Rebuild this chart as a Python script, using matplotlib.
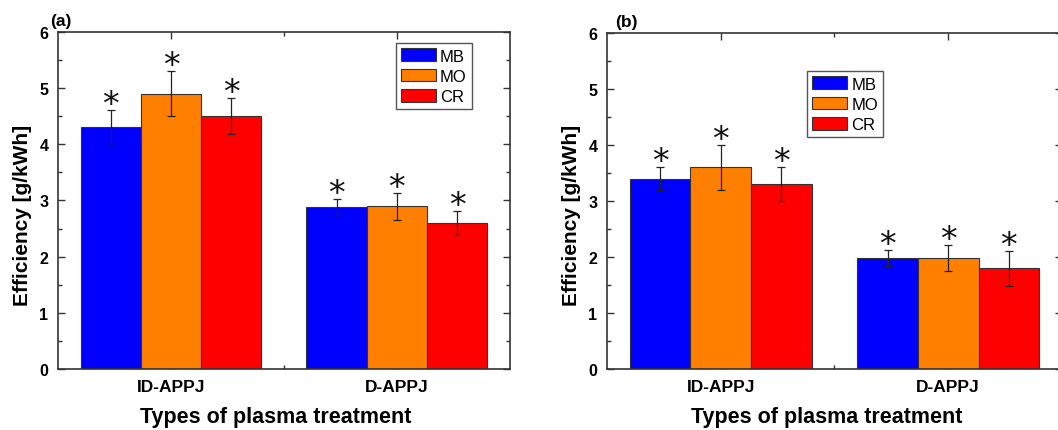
import numpy as np
import matplotlib.pyplot as plt
from matplotlib.ticker import MultipleLocator

plt.rcParams['font.family'] = ['Liberation Sans', 'DejaVu Sans']

groups = ['ID-APPJ', 'D-APPJ']
series = ['MB', 'MO', 'CR']
colors = ['#0000ff', '#ff8000', '#ff0000']

# panel (a)
eff_a = [[4.30, 2.88], [4.90, 2.90], [4.50, 2.60]]
err_a = [[0.31, 0.14], [0.40, 0.24], [0.32, 0.21]]
# panel (b)
eff_b = [[3.40, 1.98], [3.60, 1.98], [3.30, 1.80]]
err_b = [[0.20, 0.15], [0.40, 0.23], [0.31, 0.31]]

fig = plt.figure(figsize=(10.58, 4.31), dpi=100)
ax_a = fig.add_axes([0.0548, 0.1415, 0.427, 0.782])
ax_b = fig.add_axes([0.5737, 0.1415, 0.43, 0.780])

def draw_panel(ax, vals, errs, tag, tag_x, leg_anchor):
    x = np.arange(1, len(groups) + 1)
    w = 0.8 / len(series)
    for i, (name, col) in enumerate(zip(series, colors)):
        pos = x + (i - 1) * w
        ax.bar(pos, vals[i], w, color=col, edgecolor='#333333', lw=0.8,
               label=name, zorder=2)
        ax.errorbar(pos, vals[i], yerr=errs[i], fmt='none', ecolor='#222222',
                    elinewidth=0.9, capsize=3, capthick=0.9, zorder=3)
        for px, v, e in zip(pos, vals[i], errs[i]):
            ax.text(px, v + e + 0.10, '*', ha='center', va='center',
                    fontsize=24, color='#111111', family='DejaVu Sans')
    ax.set_xlim(0.5, 2.5)
    ax.set_ylim(0, 6)
    ax.set_xticks(x)
    ax.set_xticklabels(groups, fontsize=12.5, fontweight='bold')
    ax.set_xticks([1.5], minor=True)
    ax.yaxis.set_major_locator(MultipleLocator(1))
    ax.yaxis.set_minor_locator(MultipleLocator(0.5))
    for lab in ax.get_yticklabels():
        lab.set_fontweight('bold')
        lab.set_fontsize(11.5)
    ax.tick_params(which='both', direction='in', top=True, right=True,
                   color='#333333')
    ax.tick_params(which='major', length=5, width=1)
    ax.tick_params(which='minor', length=3, width=1)
    ax.tick_params(axis='x', which='major', pad=7)
    ax.tick_params(axis='y', which='major', pad=7)
    for s in ax.spines.values():
        s.set_linewidth(1.2)
        s.set_color('#333333')
    ax.set_ylabel('Efficiency [g/kWh]', fontsize=15, fontweight='bold')
    ax.set_xlabel('Types of plasma treatment', fontsize=15.5,
                  fontweight='bold')
    ax.yaxis.set_label_coords(-0.078, 0.46)
    ax.xaxis.set_label_coords(0.482, -0.142)
    ax.xaxis.label.set_va('center')
    ax.yaxis.label.set_va('center')
    ax.text(tag_x, 1.012, tag, transform=ax.transAxes, fontsize=12.5,
            fontweight='bold', ha='left', va='bottom')
    ax.legend(loc='upper left', bbox_to_anchor=leg_anchor, fontsize=12,
              fancybox=False, edgecolor='#555555', framealpha=1,
              handlelength=2.1, handleheight=0.8, handletextpad=0.25,
              labelspacing=0.3, borderpad=0.3, borderaxespad=0)

draw_panel(ax_a, eff_a, err_a, '(a)', -0.018, (0.748, 0.966))
draw_panel(ax_b, eff_b, err_b, '(b)', 0.018, (0.44, 0.885))

fig.savefig('out.png', dpi=100)
